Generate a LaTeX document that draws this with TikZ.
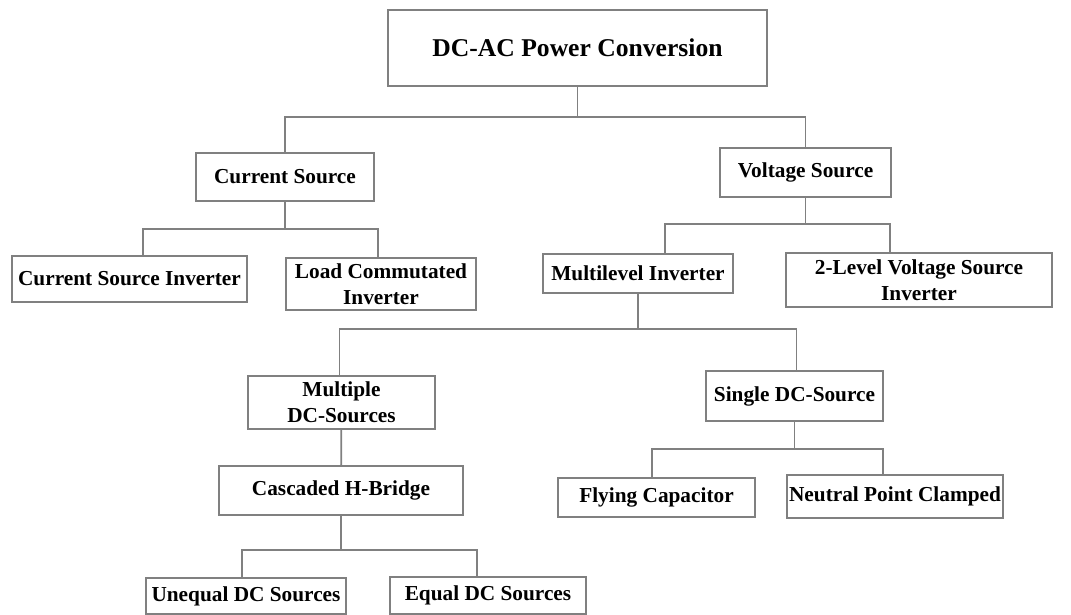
\documentclass[tikz,border=0pt]{standalone}
\usepackage{fontspec}
\setmainfont{Liberation Serif}
\usetikzlibrary{positioning,calc}
\definecolor{bgray}{HTML}{808080}
\tikzset{
  box/.style={draw=bgray,fill=white,line width=1.8pt,align=center,inner sep=0pt,font=\bfseries\fontsize{21.3}{26}\selectfont},
  ttl/.style={box,font=\bfseries\fontsize{25.6}{30}\selectfont},
  conn/.style={draw=bgray,line width=1.8pt},
}

\begin{document}
\begin{tikzpicture}[x=1pt,y=-1pt]
  \useasboundingbox (0,0) rectangle (1071,615);
  % level 0 and 1
  \node[ttl,minimum width=379pt,minimum height=76pt] (root) at (577.5,48) {DC-AC Power Conversion};
  \node[box,minimum width=178pt,minimum height=48pt] (cs) at (285,177) {Current Source};
  \node[box,minimum width=171pt,minimum height=49pt] (vs) at (805.5,172.5) {Voltage Source};
  % current source branch
  \node[box,minimum width=235pt,minimum height=46pt] (csi) at (129.5,279) {Current Source Inverter};
  \node[box,minimum width=190pt,minimum height=52pt] (lci) at (381,284) {Load Commutated\\Inverter};
  % voltage source branch
  \node[box,minimum width=190pt,minimum height=39pt] (mi) at (638,273.5) {Multilevel Inverter};
  \node[box,minimum width=266pt,minimum height=54pt] (lv2) at (919,280) {2-Level Voltage Source\\Inverter};
  \node[box,minimum width=187pt,minimum height=53pt] (mds) at (341.5,402.5) {Multiple\\DC-Sources};
  \node[box,minimum width=177pt,minimum height=50pt] (sdc) at (794.5,396) {Single DC-Source};
  \node[box,minimum width=244pt,minimum height=49pt] (chb) at (341,490.5) {Cascaded H-Bridge};
  \node[box,minimum width=197pt,minimum height=39pt] (fc) at (656.5,497.5) {Flying Capacitor};
  \node[box,minimum width=216pt,minimum height=43pt] (npc) at (895,496.5) {Neutral Point Clamped};
  \node[box,minimum width=200pt,minimum height=36pt] (uds) at (246,596) {Unequal DC Sources};
  \node[box,minimum width=196pt,minimum height=37pt] (eds) at (488,595.5) {Equal DC Sources};

  % tree connectors
  \draw[conn] (root.south) -- ++(0,30) -| (cs.north);
  \draw[conn] (root.south) -- ++(0,30) -| (vs.north);
  \draw[conn] (cs.south) -- ++(0,27) -| ([xshift=13.5pt]csi.north);
  \draw[conn] (cs.south) -- ++(0,27) -| ([xshift=-3pt]lci.north);
  \draw[conn] (vs.south) -- ++(0,26) -| ([xshift=27pt]mi.north);
  \draw[conn] (vs.south) -- ++(0,26) -| ([xshift=-29pt]lv2.north);
  \draw[conn] (mi.south) -- ++(0,35) -| ([xshift=-2pt]mds.north);
  \draw[conn] (mi.south) -- ++(0,35) -| ([xshift=2pt]sdc.north);
  \draw[conn] (mds) -- (chb);
  \draw[conn] (chb.south) -- ++(0,34) -| ([xshift=-4pt]uds.north);
  \draw[conn] (chb.south) -- ++(0,34) -| ([xshift=-11pt]eds.north);
  \draw[conn] (sdc.south) -- ++(0,27) -| ([xshift=-4.5pt]fc.north);
  \draw[conn] (sdc.south) -- ++(0,27) -| ([xshift=-12pt]npc.north);
\end{tikzpicture}
\end{document}
